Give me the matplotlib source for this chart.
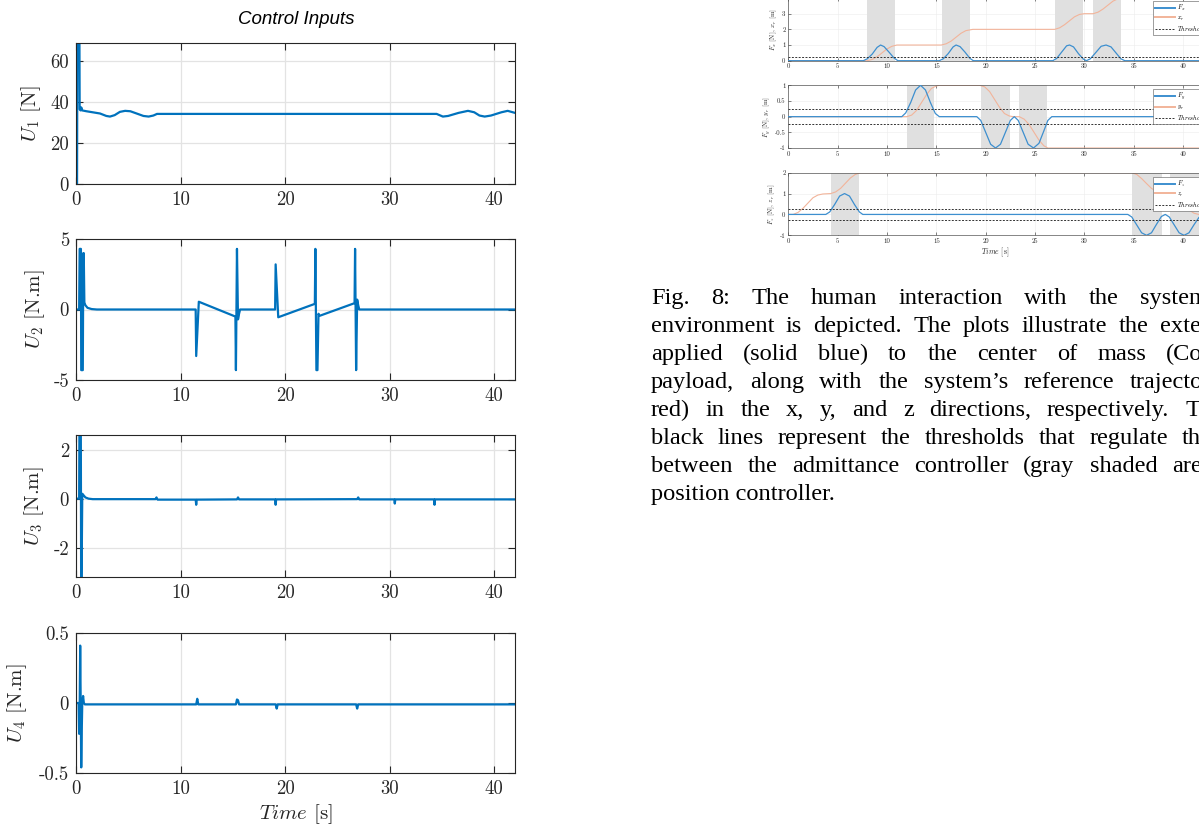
import matplotlib
matplotlib.use('Agg')
import matplotlib.pyplot as plt
from matplotlib.transforms import IdentityTransform

plt.rcParams['font.family'] = 'cmr10'
plt.rcParams['mathtext.fontset'] = 'cm'
plt.rcParams['axes.formatter.use_mathtext'] = True

W, H = 1199, 826

# ---- left figure: control inputs ----
u1_t = [0, 0.1, 0.15, 0.3, 0.35, 0.45, 0.5, 0.6, 1.0, 2.3, 2.9, 3.25, 3.7, 4.2, 4.7, 5.2, 5.8, 6.45,
        6.95, 7.4, 7.75, 34.5, 35.1, 35.6, 36.6, 37.5, 38.1, 38.6, 39.1, 39.7, 40.7, 41.3, 42]
u1 = [0, 0, 120, 120, 36.5, 36, 37.5, 36, 35.6, 34.5, 33.3, 33.0, 33.7, 35.3, 35.8, 35.6, 34.5, 33.3,
      33.0, 33.5, 34.3, 34.3, 33.0, 33.3, 34.8, 35.8, 35.1, 33.5, 33.0, 33.5, 35.1, 35.8, 34.8]

u2_t = [0, 0.3, 0.35, 0.47, 0.5, 0.65, 0.7, 0.74, 0.8, 0.9, 1.1, 1.5, 2.0, 11.45, 11.5, 11.75,
        15.25, 15.3, 15.4, 15.5, 15.6, 15.7, 19.05, 19.1, 19.35, 22.85, 22.9, 23.0, 23.1, 23.2,
        23.3, 26.65, 26.7, 26.8, 26.9, 27.0, 27.1, 42]
u2 = [0, 0, 4.3, 4.3, -4.3, -4.3, 4.0, 4.0, 0.5, 0.3, 0.12, 0.03, 0, 0, -3.3, 0.55,
      -0.5, -4.3, 4.3, -0.7, -0.3, 0, 0, 3.2, -0.55, 0.4, 4.3, -4.3, -4.3, -0.3,
      -0.45, 0.45, 4.3, -4.3, 0.7, 0.3, 0, 0]

u3_t = [0, 0.3, 0.35, 0.45, 0.5, 0.6, 0.7, 0.9, 1.2, 1.6, 7.6, 7.7, 7.8, 11.45, 11.5, 11.55,
        15.4, 15.5, 15.6, 19.05, 19.1, 19.15, 26.9, 27.0, 27.1, 30.45, 30.5, 30.55, 34.25, 34.3,
        34.35, 42]
u3 = [0, 0, 5, 5, -5, 0.2, 0.15, 0.05, 0.0, -0.02, -0.02, 0.05, -0.04, -0.04, -0.25, -0.04,
      -0.03, 0.05, -0.03, -0.03, -0.25, -0.03, -0.02, 0.05, -0.03, -0.03, -0.2, -0.03, -0.03, -0.25,
      -0.03, -0.03]

u4_t = [0, 0.25, 0.3, 0.35, 0.4, 0.45, 0.5, 0.55, 0.6, 0.68, 0.75, 0.85, 1.5, 11.5, 11.6, 11.7,
        15.3, 15.4, 15.5, 15.6, 19.1, 19.2, 19.3, 26.8, 26.9, 27.0, 42]
u4 = [0, 0, -0.22, -0.05, 0.41, 0.0, -0.46, -0.2, 0.0, 0.05, 0.0, -0.01, -0.01, -0.01, 0.03, -0.01,
      -0.01, 0.025, 0.02, -0.01, -0.01, -0.04, -0.01, -0.01, -0.04, -0.01, -0.01]

u_ylabels = [r'$U_1$ [N]', r'$U_2$ [N.m]', r'$U_3$ [N.m]', r'$U_4$ [N.m]']
u_ylims = [(0, 69), (-5, 5), (-3.2, 2.6), (-0.5, 0.5)]
u_yticks = [[0, 20, 40, 60], [-5, 0, 5], [-2, 0, 2], [-0.5, 0, 0.5]]
u_yticklabels = [['0', '20', '40', '60'], ['-5', '0', '5'], ['-2', '0', '2'], ['-0.5', '0', '0.5']]
u_xticks = [0, 10, 20, 30, 40]

# ---- right figure: human interaction ----
fx_t = [0, 7.6, 8.0, 8.5, 9.0, 9.35, 9.7, 10.2, 10.7, 11.1, 15.3, 15.7, 16.2, 16.7, 17.0, 17.4,
        17.9, 18.4, 18.75, 26.8, 27.2, 27.7, 28.2, 28.5, 28.9, 29.4, 29.9, 30.2, 30.6, 31.1, 31.7,
        32.2, 32.7, 33.2, 33.7, 34.1, 42]
fx = [0, 0, 0.12, 0.42, 0.85, 1.0, 0.9, 0.55, 0.18, 0, 0, 0.12, 0.45, 0.88, 1.0, 0.9,
      0.55, 0.15, 0, 0, 0.15, 0.55, 0.95, 1.0, 0.88, 0.45, 0.1, 0, 0.12, 0.48, 0.92,
      1.0, 0.88, 0.5, 0.12, 0, 0]
xr_t = [0, 8.0, 8.5, 9.0, 9.5, 10.0, 10.5, 11.0, 15.5, 16.0, 16.5, 17.0, 17.5, 18.0, 18.7, 27.0,
        27.5, 28.0, 28.5, 29.0, 29.5, 30.0, 30.9, 31.4, 31.9, 32.4, 32.9, 33.4, 34.0, 42]
xr = [0, 0, 0.08, 0.25, 0.5, 0.75, 0.92, 1.0, 1.0, 1.08, 1.25, 1.5, 1.75, 1.92, 2.0, 2.0,
      2.1, 2.3, 2.55, 2.8, 2.95, 3.0, 3.0, 3.1, 3.3, 3.55, 3.8, 3.95, 4.0, 4.0]
fy_t = [0, 11.5, 11.9, 12.4, 12.9, 13.4, 13.9, 14.4, 14.9, 15.3, 19.1, 19.5, 20.0, 20.5, 21.0,
        21.5, 22.0, 22.5, 22.9, 23.3, 23.8, 24.3, 24.85, 25.4, 25.9, 26.3, 26.7, 42]
fy = [0, 0, 0.12, 0.45, 0.85, 1.0, 0.85, 0.45, 0.1, 0, 0, -0.12, -0.5, -0.88, -1.0,
      -0.88, -0.5, -0.12, 0.0, -0.12, -0.5, -0.88, -1.0, -0.85, -0.45, -0.12, 0, 0]
yr_t = [0, 12.0, 12.5, 13.0, 13.5, 14.0, 14.5, 15.0, 15.3, 19.4, 19.9, 20.4, 20.9, 21.4, 21.9,
        22.4, 22.8, 23.4, 23.9, 24.4, 24.9, 25.4, 25.9, 26.3, 42]
yr = [0, 0, 0.05, 0.2, 0.45, 0.7, 0.9, 0.98, 1.0, 1.0, 0.95, 0.8, 0.55, 0.3, 0.1,
      0.02, 0.0, 0.0, -0.08, -0.25, -0.5, -0.75, -0.93, -1.0, -1.0]
fz_t = [0, 3.8, 4.2, 4.7, 5.2, 5.7, 6.2, 6.7, 7.2, 7.55, 34.4, 34.8, 35.3, 35.8, 36.3, 36.8,
        37.3, 37.8, 38.2, 38.6, 39.1, 39.6, 40.1, 40.6, 41.1, 41.6, 42]
fz = [0, 0, 0.12, 0.48, 0.88, 1.0, 0.88, 0.48, 0.12, 0, 0, -0.12, -0.5, -0.88, -1.0, -0.88,
      -0.48, -0.1, 0.0, -0.12, -0.5, -0.88, -1.0, -0.88, -0.5, -0.15, 0.0]
zr_t = [0, 0.5, 1.0, 1.5, 2.0, 2.5, 3.0, 3.5, 4.3, 4.8, 5.3, 5.8, 6.3, 6.8, 7.3, 34.8, 35.3,
        35.8, 36.3, 36.8, 37.3, 37.8, 38.6, 39.1, 39.6, 40.1, 40.6, 41.1, 41.6, 42]
zr = [0, 0.0, 0.1, 0.3, 0.55, 0.8, 0.93, 0.98, 1.0, 1.08, 1.25, 1.5, 1.75, 1.92, 2.0, 2.0, 1.92,
      1.72, 1.48, 1.25, 1.1, 1.02, 1.0, 0.9, 0.7, 0.45, 0.22, 0.06, 0.0, 0.0]
threshold = 0.25

adm_x = [(8.0, 10.8), (15.55, 18.4), (27.05, 29.85), (30.9, 33.7)]
adm_y = [(12.0, 14.75), (19.55, 22.45), (23.4, 26.25)]
adm_z = [(4.3, 7.15), (34.85, 37.85), (38.7, 41.7)]

r_series = [(fx_t, fx, xr_t, xr, adm_x, 'x'), (fy_t, fy, yr_t, yr, adm_y, 'y'), (fz_t, fz, zr_t, zr, adm_z, 'z')]
r_ylims = [(0, 4), (-1, 1), (-1, 2)]
r_yticks = [[0, 1, 2, 3, 4], [-1, -0.5, 0, 0.5, 1], [-1, 0, 1, 2]]
r_yticklabels = [['0', '1', '2', '3', '4'], ['-1', '-0.5', '0', '0.5', '1'], ['-1', '0', '1', '2']]
r_xticks = [0, 5, 10, 15, 20, 25, 30, 35, 40]

caption = [
    'Fig. 8: The human interaction with the system',
    'environment is depicted. The plots illustrate the external',
    'applied (solid blue) to the center of mass (CoM)',
    'payload, along with the system\u2019s reference trajectory',
    'red) in the x, y, and z directions, respectively. The',
    'black lines represent the thresholds that regulate the',
    'between the admittance controller (gray shaded area',
    'position controller.',
]
# pixel x where the last word of each justified line starts (None = ragged)
caption_last = [1140, 1160, 1166, 1130, 1185, 1182, 1172, None]


def px_box(x0, y0, x1, y1):
    return [x0 / W, 1 - y1 / H, (x1 - x0) / W, (y1 - y0) / H]


fig = plt.figure(figsize=(W / 100, H / 100), dpi=100)
dark = '#262626'

left_boxes = [(76, 43, 515, 184), (76, 239, 515, 380), (76, 435, 515, 577), (76, 633, 515, 773)]
label_x = [-0.075, -0.066, -0.068, -0.107]
u_data = [(u1_t, u1), (u2_t, u2), (u3_t, u3), (u4_t, u4)]
for i, (t, u) in enumerate(u_data):
    ax = fig.add_axes(px_box(*left_boxes[i]))
    ax.plot(t, u, color='#0072BD', lw=1.6)
    ax.set_xlim(0, 42)
    ax.set_ylim(*u_ylims[i])
    ax.set_xticks(u_xticks)
    ax.set_xticklabels([str(v) for v in u_xticks])
    ax.set_yticks(u_yticks[i])
    ax.set_yticklabels(u_yticklabels[i])
    ax.grid(True, color='#e3e3e3', lw=0.9)
    ax.set_axisbelow(True)
    ax.tick_params(direction='in', top=True, right=True, length=5, width=0.8,
                   labelsize=13.5, colors=dark, pad=5)
    for s in ax.spines.values():
        s.set_color(dark)
        s.set_linewidth(0.8)
    ax.set_ylabel(u_ylabels[i], fontsize=15, color=dark)
    ax.yaxis.set_label_coords(label_x[i], 0.5)
    if i == 3:
        ax.set_xlabel(r'$Time$ [s]', fontsize=15, color=dark, labelpad=3)

fig.text(296 / W, 1 - 19 / H, 'Control Inputs', family='Liberation Sans', style='italic',
         fontsize=13.5, ha='center', va='center', color='black')

right_boxes = [(788.3, -2, 1202.8, 60.7), (788.3, 85.3, 1202.8, 148), (788.3, 172.7, 1202.8, 235.3)]
r_label_x = [-0.023, -0.037, -0.028]
legend_top = [1, 89, 177]
for i, (ft, f, rt, r, spans, c) in enumerate(r_series):
    ax = fig.add_axes(px_box(*right_boxes[i]))
    for a, b in spans:
        ax.axvspan(a, b, color='#e0e0e0', lw=0, zorder=1)
    ax.plot(ft, f, color='#3d8fcf', lw=0.9, zorder=3, label=r'$F_%s$' % c)
    ax.plot(rt, r, color='#f2b49a', lw=0.8, zorder=2, label=r'$%s_r$' % c)
    ax.axhline(threshold, color='#333333', lw=0.7, ls=(0, (2, 1.5)), zorder=4, label=r'$Threshold$')
    ax.axhline(-threshold, color='#333333', lw=0.7, ls=(0, (2, 1.5)), zorder=4)
    ax.set_xlim(0, 42)
    ax.set_ylim(*r_ylims[i])
    ax.set_xticks(r_xticks)
    ax.set_xticklabels([str(v) for v in r_xticks])
    ax.set_yticks(r_yticks[i])
    ax.set_yticklabels(r_yticklabels[i])
    ax.grid(True, color='#ececec', lw=0.4)
    ax.set_axisbelow(True)
    ax.tick_params(direction='in', top=True, right=True, length=2, width=0.4,
                   labelsize=4.8, colors=dark, pad=2)
    for s in ax.spines.values():
        s.set_color('#555555')
        s.set_linewidth(0.5)
    ax.set_ylabel(r'$F_%s$ [N], $%s_r$ [m]' % (c, c), fontsize=5, color=dark)
    ax.yaxis.set_label_coords(r_label_x[i], 0.5)
    if i == 2:
        ax.set_xlabel(r'$Time$ [s]', fontsize=5.5, color=dark)
        ax.xaxis.set_label_coords(0.4987, -0.16)
    leg = ax.legend(loc='upper left', bbox_to_anchor=(1153 / W, 1 - legend_top[i] / H),
                    bbox_transform=fig.transFigure, borderaxespad=0, fontsize=4.5,
                    fancybox=False, framealpha=1, edgecolor='#555555', handlelength=3.2,
                    borderpad=0.3, labelspacing=0.25, handletextpad=0.4)
    leg.get_frame().set_linewidth(0.4)
    for h in leg.get_lines()[:2]:
        h.set_linewidth(1.4)

# caption, justified against the pixel position of each line's last word
renderer = fig.canvas.get_renderer()
x0 = 651
for k, line in enumerate(caption):
    yb = H - (304 + 28 * k)
    if caption_last[k] is None:
        fig.text(x0, yb, line, transform=IdentityTransform(), family='Liberation Serif',
                 fontsize=17.6, va='baseline', ha='left', color='black')
        continue
    words = line.split(' ')
    objs = [fig.text(0, yb, w, transform=IdentityTransform(), family='Liberation Serif',
                     fontsize=17.6, va='baseline', ha='left', color='black') for w in words]
    widths = [o.get_window_extent(renderer).width for o in objs]
    gap = (caption_last[k] - x0 - sum(widths[:-1])) / (len(words) - 1)
    x = x0
    for o, w in zip(objs, widths):
        o.set_x(x)
        x += w + gap

fig.savefig('out.png', dpi=100)
